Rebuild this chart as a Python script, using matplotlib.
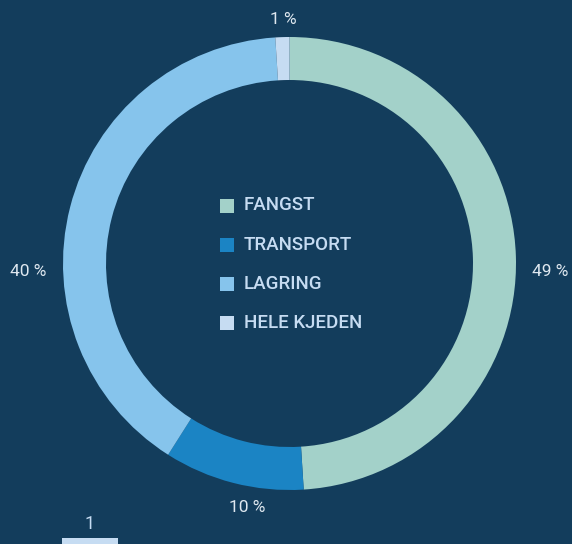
import matplotlib.pyplot as plt
from matplotlib.patches import Rectangle

CATEGORIES = ["FANGST", "TRANSPORT", "LAGRING", "HELE KJEDEN"]
SHARES = [49, 10, 40, 1]
PCT_LABELS = ["49 %", "10 %", "40 %", "1 %"]
COLORS = ["#a3d1c9", "#1b84c4", "#86c4ec", "#c6dcf2"]
BG = "#133d5c"

W, H = 572, 544

fig = plt.figure(figsize=(W / 100, H / 100), dpi=100, facecolor=BG)
ax = fig.add_axes([0, 0, 1, 1])
ax.set_facecolor(BG)

cx, cy, r = 289.5, H - 263.5, 226.5
wedges, _ = ax.pie(
    SHARES, colors=COLORS, startangle=90, counterclock=False,
    center=(cx, cy), radius=r, frame=True,
    wedgeprops=dict(width=43, linewidth=0),
)
ax.set_xlim(0, W)
ax.set_ylim(0, H)
ax.set_aspect("equal")
ax.axis("off")

# percentage labels outside the ring
label_pos = [(550, H - 272), (247, H - 507), (28, H - 272), (283, H - 19)]
for (x, y), txt in zip(label_pos, PCT_LABELS):
    ax.text(x, y, txt, ha="center", va="center", fontsize=12.5,
            color="#dfe8f0", family="Roboto")

# legend in the middle of the donut
for i, (name, col) in enumerate(zip(CATEGORIES, COLORS)):
    y = H - (205.5 + i * 39.3)
    ax.add_patch(Rectangle((220, y - 7), 14, 14, facecolor=col, linewidth=0))
    ax.text(244, y, name, ha="left", va="center", fontsize=13.5,
            color="#c6dcf2", family="Roboto", fontweight="medium")

# stray page element at the bottom left
ax.text(90, H - 524, "1", ha="center", va="center", fontsize=13,
        color="#c6dcf2", family="Roboto")
ax.add_patch(Rectangle((62, 0), 56, 6, facecolor="#c6dcf2", linewidth=0))

fig.savefig("out.png", dpi=100, facecolor=BG)
